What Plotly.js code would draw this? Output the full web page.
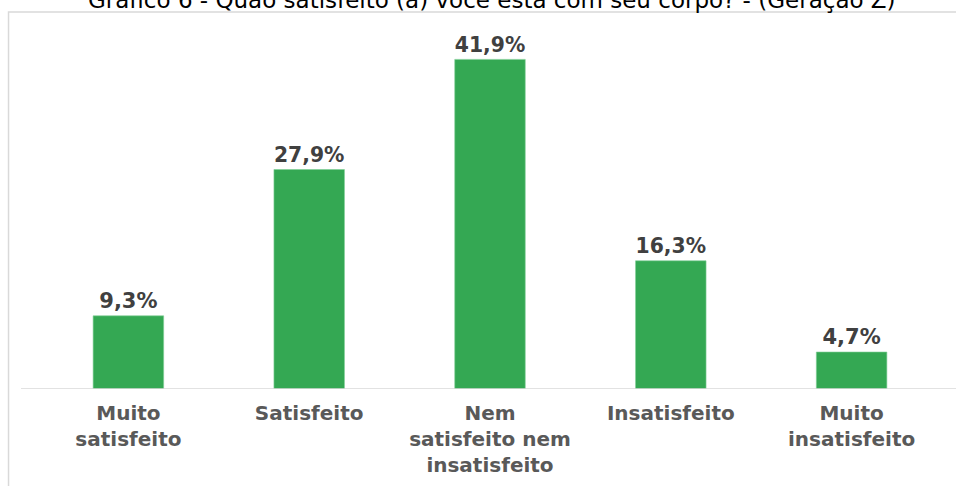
<!DOCTYPE html>
<html>
<head>
<meta charset="utf-8">
<script src="https://cdn.plot.ly/plotly-3.0.1.min.js"></script>
<style>html,body{margin:0;padding:0;background:#fff;}#chart{width:956px;height:486px;}</style>
</head>
<body>
<div id="chart"></div>
<script>
const categories = ["Muito<br>satisfeito", "Satisfeito", "Nem<br>satisfeito nem<br>insatisfeito", "Insatisfeito", "Muito<br>insatisfeito"];
const values = [9.3, 27.9, 41.9, 16.3, 4.7];
const labels = ["9,3%", "27,9%", "41,9%", "16,3%", "4,7%"];
const titleText = "Gráfico 6 - Quão satisfeito (a) você está com seu corpo? - (Geração Z)";

const trace = {
  type: "bar",
  x: categories,
  y: values,
  text: labels,
  textposition: "outside",
  textfont: {family: "DejaVu Sans", size: 21, color: "#404040", weight: "bold"},
  cliponaxis: false,
  marker: {color: "#34a853", line: {color: "#7fcf95", width: 0.6}},
  hoverinfo: "none"
};

const layout = {
  width: 956, height: 486,
  margin: {l: 38, r: 14, t: 35, b: 97},
  paper_bgcolor: "#ffffff", plot_bgcolor: "#ffffff",
  bargap: 0.61,
  showlegend: false,
  title: {
    text: titleText,
    font: {family: "DejaVu Sans", size: 23, color: "#000000"},
    xref: "paper", x: 0.502, xanchor: "center",
    yref: "container", y: 1, yanchor: "middle"
  },
  xaxis: {
    showline: false, showgrid: false, zeroline: false, ticks: "",
    tickfont: {family: "DejaVu Sans", size: 20, color: "#595959", weight: "bold"},
    ticklabelstandoff: 10
  },
  yaxis: {
    range: [0, 45], visible: false, showgrid: false, zeroline: false
  },
  shapes: [
    {type: "rect", xref: "paper", yref: "paper", x0: -0.0326, x1: 1.04, y0: -0.3, y1: 1.065,
     line: {color: "#d9d9d9", width: 1.5}, fillcolor: "rgba(0,0,0,0)", layer: "below"},
    {type: "line", xref: "paper", yref: "y", x0: -0.0188, x1: 1.02, y0: 0, y1: 0,
     line: {color: "#d9d9d9", width: 1.5}}
  ]
};

Plotly.newPlot("chart", [trace], layout, {displayModeBar: false, staticPlot: true});
</script>
</body>
</html>
